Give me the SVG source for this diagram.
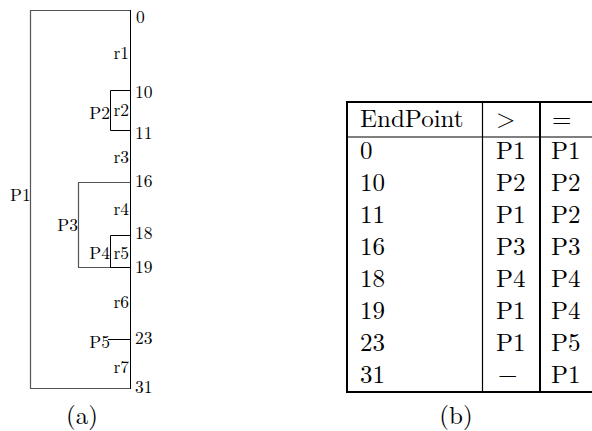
<svg xmlns="http://www.w3.org/2000/svg" width="592" height="431" viewBox="0 0 592 431">
<style>
  text { font-family: Latin Modern Roman, Liberation Serif, serif; fill: #000; }
  .lbl { font-size: 17.5px; }
  .end { text-anchor: end; }
  .tb { font-size: 25px; }
  .cap { font-size: 25px; text-anchor: middle; }
  .g { fill: none; stroke: #555; stroke-width: 1.2; }
  .k { fill: none; stroke: #000; stroke-width: 1; }
  .rule { stroke: #000; stroke-width: 2; }
  .thin { stroke: #000; stroke-width: 1.2; }
</style>
<rect width="592" height="431" fill="#fff"/>

<g id="fig-a">
  <g id="P1">
    <polyline class="g" points="130,10.5 30.5,10.5 30.5,388.5 130,388.5"/>
    <line class="k" x1="130.5" y1="10" x2="130.5" y2="389"/>
    <text class="lbl" x="10" y="201">P1</text>
  </g>
  <g id="P2">
    <polyline class="k" points="130.5,90.5 110.5,90.5 110.5,130.5 130.5,130.5"/>
    <text class="lbl end" x="110" y="119">P2</text>
  </g>
  <g id="P3">
    <polyline class="g" points="130,182.5 78.5,182.5 78.5,267.5 130,267.5"/>
    <text class="lbl end" x="78" y="231">P3</text>
  </g>
  <g id="P4">
    <polyline class="k" points="130.5,235.5 110.5,235.5 110.5,267.5 130.5,267.5"/>
    <text class="lbl end" x="110" y="259">P4</text>
  </g>
  <g id="P5">
    <line class="k" x1="108" y1="339.5" x2="130.5" y2="339.5"/>
    <text class="lbl end" x="110" y="348">P5</text>
  </g>
  <g id="ranges">
    <text class="lbl end" x="129" y="59">r1</text>
    <text class="lbl end" x="129" y="116">r2</text>
    <text class="lbl end" x="129" y="163">r3</text>
    <text class="lbl end" x="129" y="215">r4</text>
    <text class="lbl end" x="129" y="259">r5</text>
    <text class="lbl end" x="129" y="308">r6</text>
    <text class="lbl end" x="129" y="373">r7</text>
  </g>
  <g id="endpoints">
    <text class="lbl" x="136" y="23">0</text>
    <text class="lbl" x="135" y="98">10</text>
    <text class="lbl" x="135" y="139">11</text>
    <text class="lbl" x="135" y="187">16</text>
    <text class="lbl" x="135" y="239">18</text>
    <text class="lbl" x="135" y="273">19</text>
    <text class="lbl" x="135" y="344">23</text>
    <text class="lbl" x="135" y="393">31</text>
  </g>
  <text class="cap" x="82" y="424">(a)</text>
</g>

<g id="table-b">
  <line class="rule" x1="346" y1="102" x2="592" y2="102"/>
  <line class="thin" x1="346" y1="137" x2="592" y2="137"/>
  <line class="rule" x1="346" y1="392" x2="592" y2="392"/>
  <line class="rule" x1="347" y1="101" x2="347" y2="393"/>
  <line class="thin" x1="482.5" y1="102" x2="482.5" y2="392"/>
  <line class="rule" x1="540" y1="102" x2="540" y2="392"/>

  <text class="tb" x="360" y="127">EndPoint</text>
  <text class="tb" x="496" y="127">&gt;</text>
  <text class="tb" x="552" y="127">=</text>

  <g id="col-end" class="tb">
    <text x="360" y="159">0</text>
    <text x="360" y="191">10</text>
    <text x="360" y="223">11</text>
    <text x="360" y="255">16</text>
    <text x="360" y="287">18</text>
    <text x="360" y="319">19</text>
    <text x="360" y="351">23</text>
    <text x="360" y="383">31</text>
  </g>
  <g id="col-gt" class="tb">
    <text x="496" y="159">P1</text>
    <text x="496" y="191">P2</text>
    <text x="496" y="223">P1</text>
    <text x="496" y="255">P3</text>
    <text x="496" y="287">P4</text>
    <text x="496" y="319">P1</text>
    <text x="496" y="351">P1</text>
    <text x="498" y="383">−</text>
  </g>
  <g id="col-eq" class="tb">
    <text x="551" y="159">P1</text>
    <text x="551" y="191">P2</text>
    <text x="551" y="223">P2</text>
    <text x="551" y="255">P3</text>
    <text x="551" y="287">P4</text>
    <text x="551" y="319">P4</text>
    <text x="551" y="351">P5</text>
    <text x="551" y="383">P1</text>
  </g>
  <text class="cap" x="456" y="424">(b)</text>
</g>
</svg>
